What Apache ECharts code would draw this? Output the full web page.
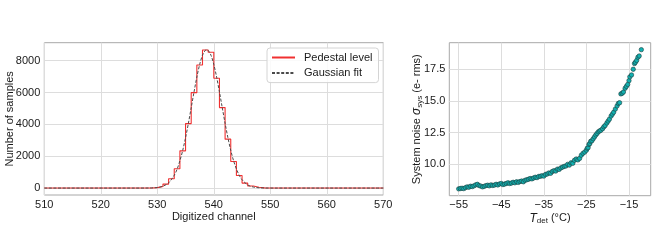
<!DOCTYPE html>
<html><head><meta charset="utf-8">
<script src="https://cdn.jsdelivr.net/npm/echarts@6/dist/echarts.min.js"></script>
<style>html,body{margin:0;padding:0;background:#fff}#c{width:662px;height:243px}</style>
</head><body><div id="c"></div>
<script>
// ---- Left panel: pedestal histogram (bin left edges and counts) ----
const histEdges = [510, 529, 530, 531, 532, 533, 534, 535, 536, 537, 538, 539, 540, 541, 542, 543, 544, 545, 546, 547, 548, 549, 570];
const histCounts = [0, 30, 100, 250, 583, 1210, 2338, 4050, 5994, 7730, 8671, 8527, 6897, 5053, 3072, 1668, 790, 313, 130, 50, 15, 0, 0];
// Gaussian fit curve
const fitX = [510, 526, 528, 529, 530, 531, 532, 533, 533.5, 534, 534.5, 535, 535.5, 536, 536.5, 537, 537.5, 538, 538.5, 538.75, 539, 539.5, 540, 540.5, 541, 541.5, 542, 542.5, 543, 543.5, 544, 544.5, 545, 546, 547, 548, 549, 551, 570];
const fitY = [0, 0, 2, 9, 35, 115, 328, 806, 1180, 1715, 2370, 3160, 4064, 5044, 6038, 6972, 7766, 8345, 8651, 8690, 8651, 8345, 7766, 6972, 6038, 5044, 4064, 3160, 2370, 1715, 1197, 806, 523, 198, 65, 18, 5, 0, 0];
const leftXTicks = [510, 520, 530, 540, 550, 560, 570];
const leftYTicks = [0, 2000, 4000, 6000, 8000];

// ---- Right panel: system noise vs detector temperature ----
const tempC = [-55.0, -54.6, -54.2, -53.8, -53.4, -53.0, -52.6, -52.2, -51.8, -51.4, -51.0, -50.6, -50.2, -49.8, -49.4, -49.0, -48.6, -48.2, -47.8, -47.4, -47.0, -46.6, -46.2, -45.8, -45.4, -45.0, -44.6, -44.2, -43.8, -43.4, -43.0, -42.6, -42.2, -41.8, -41.4, -41.0, -40.6, -40.2, -39.8, -39.4, -39.0, -38.6, -38.2, -37.8, -37.4, -37.0, -36.6, -36.2, -35.8, -35.4, -35.0, -34.6, -34.2, -33.8, -33.4, -33.0, -32.6, -32.2, -31.8, -31.4, -31.0, -30.6, -30.2, -29.8, -29.4, -29.0, -28.6, -28.2, -27.8, -27.4, -27.0, -26.6, -26.2, -25.8, -25.4, -25.0,
  -24.8, -24.6, -24.4, -24.2, -24.0, -23.7, -23.4, -23.1, -22.8, -22.5, -22.2, -21.9, -21.6, -21.2, -20.9, -20.6, -20.2, -19.9, -19.6, -19.2, -18.9, -18.6, -18.2, -17.8, -17.5, -17.2, -16.9, -16.6, -16.3, -15.9, -15.6, -15.3, -15.0, -14.8, -14.4, -14.0, -13.7, -13.5, -13.2, -12.9, -12.6, -12.1];
const noiseRms = [8.04, 8.07, 8.09, 8.06, 8.14, 8.20, 8.17, 8.25, 8.22, 8.28, 8.36, 8.40, 8.30, 8.26, 8.20, 8.24, 8.30, 8.33, 8.28, 8.36, 8.31, 8.34, 8.40, 8.35, 8.43, 8.47, 8.38, 8.42, 8.47, 8.52, 8.46, 8.50, 8.56, 8.52, 8.60, 8.55, 8.62, 8.66, 8.60, 8.72, 8.76, 8.80, 8.86, 8.83, 8.90, 8.96, 8.93, 9.02, 9.04, 9.08, 9.05, 9.18, 9.22, 9.30, 9.27, 9.42, 9.48, 9.45, 9.60, 9.58, 9.70, 9.76, 9.82, 9.85, 9.98, 9.92, 10.10, 10.06, 10.30, 10.40, 10.33, 10.45, 10.70, 10.85, 10.95, 11.10,
  11.25, 11.30, 11.55, 11.62, 11.80, 11.85, 12.00, 12.15, 12.30, 12.42, 12.55, 12.62, 12.68, 12.80, 12.95, 13.05, 13.25, 13.40, 13.55, 13.80, 13.95, 14.10, 14.35, 14.60, 14.80, 14.85, 15.55, 15.60, 15.70, 16.00, 16.15, 16.30, 16.60, 16.90, 17.05, 17.50, 17.95, 18.05, 18.20, 18.45, 18.55, 19.05];
const rightXTicks = [-55, -45, -35, -25, -15];
const rightYTicks = [10, 12.5, 15, 17.5];

const FONT = "'Liberation Sans', Arial, sans-serif";
const TXT = '#1a1a1a';
const GRIDC = '#dddddd';
const FRAME = '#a8a8a8';
const minus = v => (v < 0 ? '\u2212' : '') + Math.abs(v);

const histData = histEdges.map((e, i) => [e, histCounts[i]]);
const fitData = fitX.map((x, i) => [x, fitY[i]]);
const scatData = tempC.map((t, i) => [t, noiseRms[i]]);

const axisCommon = {
  axisLine: { show: false },
  axisTick: { show: false },
  nameMoveOverlap: false,
  splitLine: { show: true, lineStyle: { color: GRIDC, width: 1 } },
  axisLabel: { color: TXT, fontFamily: FONT, fontSize: 11, margin: 4 },
  nameTextStyle: { color: TXT, fontFamily: FONT, fontSize: 11 }
};
const richName = {
  n: { fontFamily: FONT, fontSize: 11, color: TXT, lineHeight: 13, verticalAlign: 'middle' },
  i: { fontFamily: FONT, fontSize: 12, fontStyle: 'italic', color: TXT, lineHeight: 13, verticalAlign: 'middle' },
  sub: { fontFamily: FONT, fontSize: 8, color: TXT, lineHeight: 13, verticalAlign: 'bottom' }
};

const option = {
  animation: false,
  backgroundColor: '#fff',
  grid: [
    { left: 44.3, top: 42.7, width: 339, height: 152.3, show: true, borderColor: FRAME, borderWidth: 1, backgroundColor: 'transparent', containLabel: false, outerBoundsMode: 'none' },
    { left: 449.3, top: 42.7, width: 201.4, height: 153, show: true, borderColor: FRAME, borderWidth: 1, backgroundColor: 'transparent', containLabel: false, outerBoundsMode: 'none' }
  ],
  legend: {
    orient: 'vertical', left: 267, top: 48,
    padding: [4, 6, 4, 4], itemGap: 4.6, itemWidth: 23, itemHeight: 12,
    borderColor: '#d4d4d4', borderWidth: 1, borderRadius: 3, backgroundColor: 'rgba(255,255,255,0.85)',
    itemStyle: { opacity: 0 },
    textStyle: { color: TXT, fontFamily: FONT, fontSize: 11, padding: [0, 0, 0, 4] },
    data: ['Pedestal level', 'Gaussian fit']
  },
  xAxis: [
    Object.assign({}, axisCommon, {
      gridIndex: 0, type: 'value', min: 510, max: 570, interval: 10,
      name: 'Digitized channel', nameLocation: 'middle', nameGap: 16,
      axisLabel: Object.assign({}, axisCommon.axisLabel, { customValues: leftXTicks, formatter: v => String(v) }),
      axisTick: { show: false, customValues: leftXTicks }
    }),
    Object.assign({}, axisCommon, {
      gridIndex: 1, type: 'value', min: -57.2, max: -9.9,
      name: '{i|T}{sub|det}{n| (°C)}', nameLocation: 'middle', nameGap: 16,
      nameTextStyle: { color: TXT, fontFamily: FONT, fontSize: 11, rich: richName },
      axisLabel: Object.assign({}, axisCommon.axisLabel, { customValues: rightXTicks, formatter: minus }),
      axisTick: { show: false, customValues: rightXTicks }
    })
  ],
  yAxis: [
    Object.assign({}, axisCommon, {
      gridIndex: 0, type: 'value', min: -435, max: 9130,
      name: 'Number of samples', nameLocation: 'middle', nameGap: 29,
      axisLabel: Object.assign({}, axisCommon.axisLabel, { customValues: leftYTicks, formatter: v => String(v) }),
      axisTick: { show: false, customValues: leftYTicks }
    }),
    Object.assign({}, axisCommon, {
      gridIndex: 1, type: 'value', min: 7.5, max: 19.6,
      name: '{n|System noise }{i|σ}{sub|sys}{n| (e- rms)}', nameLocation: 'middle', nameGap: 26,
      nameTextStyle: { color: TXT, fontFamily: FONT, fontSize: 11, rich: richName },
      axisLabel: Object.assign({}, axisCommon.axisLabel, { customValues: rightYTicks, formatter: v => v.toFixed(1) }),
      axisTick: { show: false, customValues: rightYTicks }
    })
  ],
  series: [
    { name: 'Pedestal level', type: 'line', xAxisIndex: 0, yAxisIndex: 0, step: 'end', symbol: 'none',
      data: histData, lineStyle: { color: '#f03030', width: 1.1 }, itemStyle: { color: '#f03030' }, z: 2 },
    { name: 'Gaussian fit', type: 'line', xAxisIndex: 0, yAxisIndex: 0, symbol: 'none', smooth: 0.3,
      data: fitData, lineStyle: { color: '#4a4a4a', width: 1, type: [3, 1.6] }, itemStyle: { color: '#4a4a4a' }, z: 3 },
    { name: 'noise', type: 'scatter', xAxisIndex: 1, yAxisIndex: 1, symbol: 'circle', symbolSize: 4.4,
      data: scatData, itemStyle: { color: '#12b0b0', borderColor: '#1c3c3c', borderWidth: 0.6, opacity: 1 } }
  ]
};
const chart = echarts.init(document.getElementById('c'), null, { renderer: 'canvas' });
chart.setOption(option);
</script></body></html>
